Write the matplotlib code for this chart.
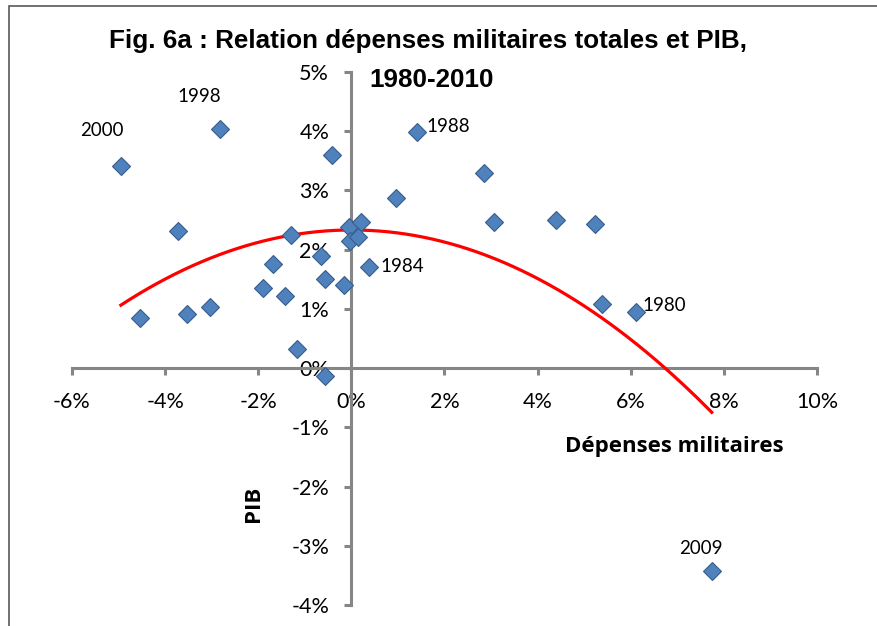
import numpy as np
import matplotlib
matplotlib.use("Agg")
from matplotlib import pyplot as plt
from matplotlib.patches import Rectangle
from matplotlib.ticker import FuncFormatter

# dépenses militaires (%), PIB (%)
dep = [-4.95, -2.83, -0.41, -3.73, -1.29, -1.68, -0.65, -1.89, -1.42, -0.57,
       -0.16, -4.55, -3.53, -3.03, -1.17, -0.57, -0.06, 0.21, -0.02, 0.14,
       0.38, 0.95, 1.41, 2.85, 3.06, 4.39, 5.24, 5.38, 6.11, 7.74]
pib = [3.42, 4.03, 3.60, 2.31, 2.24, 1.75, 1.89, 1.36, 1.21, 1.50,
       1.40, 0.85, 0.91, 1.03, 0.32, -0.14, 2.39, 2.46, 2.14, 2.21,
       1.71, 2.88, 3.99, 3.30, 2.47, 2.50, 2.43, 1.09, 0.94, -3.42]
annees = {0: '2000', 1: '1998', 22: '1988', 20: '1984', 28: '1980', 29: '2009'}

plt.rcParams['font.family'] = ['Lato', 'DejaVu Sans']

fig = plt.figure(figsize=(8.77, 6.26), dpi=100)
ax = fig.add_axes([72/877, 21/626, 745/877, 533/626])

x = np.array(dep)
y = np.array(pib)
c = np.polyfit(x, y, 2)
xx = np.linspace(x.min(), x.max(), 200)
ax.plot(xx, np.polyval(c, xx), color='#ff0000', lw=2.3, zorder=3)
ax.plot(x, y, 'D', ms=9, mfc='#4f81bd', mec='#385d8a', mew=0.8, ls='none', zorder=4)

offs = {'2000': (-14, 25), '1998': (-15, 24), '1988': (7, 4), '1984': (8, 0),
        '1980': (5, 5), '2009': (-8, 16)}
for i, lab in annees.items():
    dx, dy = offs[lab]
    ax.annotate(lab, (x[i], y[i]), xytext=(dx, dy), textcoords='offset points',
                ha='left' if dx > 0 else 'center', va='center', fontsize=13.5)

ax.set_xlim(-6, 10)
ax.set_ylim(-4, 5)
ax.set_xticks(np.arange(-6, 11, 2))
ax.set_yticks(np.arange(-4, 6, 1))
pct = FuncFormatter(lambda v, p: '%d%%' % round(v))
ax.xaxis.set_major_formatter(pct)
ax.yaxis.set_major_formatter(pct)

for s in ['top', 'right']:
    ax.spines[s].set_visible(False)
ax.spines['left'].set_position(('data', 0))
ax.spines['bottom'].set_position(('data', 0))
for s in ['left', 'bottom']:
    ax.spines[s].set_color('#868686')
    ax.spines[s].set_linewidth(2.2)
ax.tick_params(axis='both', direction='out', length=5, width=2.2, color='#868686',
               labelsize=15.5, pad=12)
ax.tick_params(axis='y', pad=11)
ax.patch.set_alpha(0)

ax.text(6.94, -1.41, 'Dépenses militaires', fontsize=16, fontweight='bold',
        ha='center', va='baseline', family=['Open Sans', 'Lato'])
ax.text(-2.1, -2.3, 'PIB', fontsize=16, fontweight='bold', rotation=90,
        ha='center', va='center', family=['Open Sans', 'Lato'])

tfam = ['Liberation Sans', 'DejaVu Sans']
fig.text(0.4875, 0.923, 'Fig. 6a : Relation dépenses militaires totales et PIB,',
         fontsize=18.7, fontweight='bold', ha='center', va='baseline', family=tfam)
fig.text(0.492, 0.861, '1980-2010', fontsize=18.7, fontweight='bold',
         ha='center', va='baseline', family=tfam)

fig.patches.append(Rectangle((9/877, -0.1), 1.2, (626-6)/626 + 0.1,
                             transform=fig.transFigure, fill=False,
                             ec='#595959', lw=1.2))

fig.savefig('out.png', dpi=100)
